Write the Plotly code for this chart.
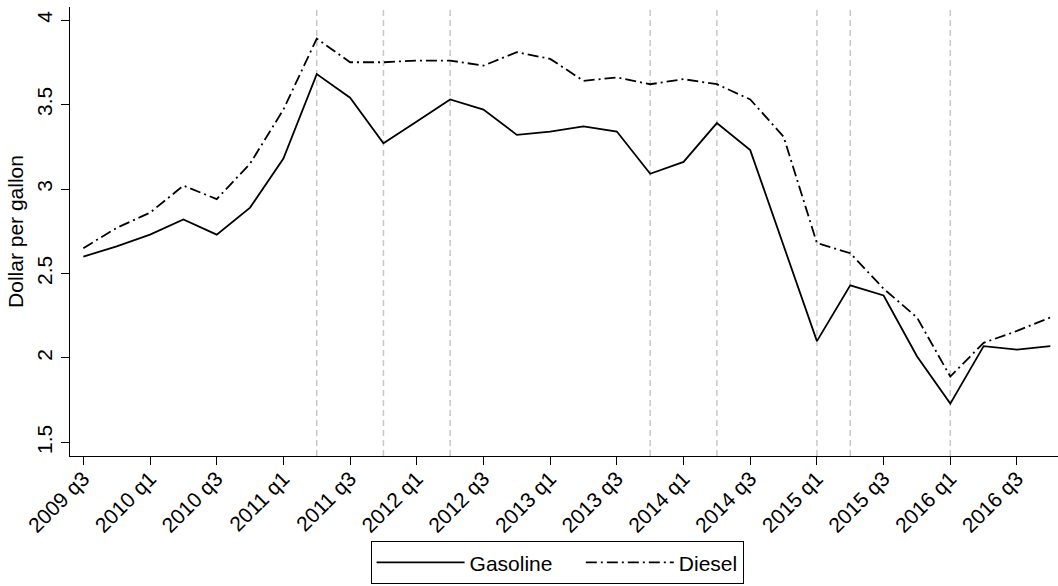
import plotly.graph_objects as go

# Quarterly average retail fuel prices, 2009 q3 - 2016 q4
quarters = [
    "2009 q3", "2009 q4",
    "2010 q1", "2010 q2", "2010 q3", "2010 q4",
    "2011 q1", "2011 q2", "2011 q3", "2011 q4",
    "2012 q1", "2012 q2", "2012 q3", "2012 q4",
    "2013 q1", "2013 q2", "2013 q3", "2013 q4",
    "2014 q1", "2014 q2", "2014 q3", "2014 q4",
    "2015 q1", "2015 q2", "2015 q3", "2015 q4",
    "2016 q1", "2016 q2", "2016 q3", "2016 q4",
]
gasoline = [
    2.60, 2.66, 2.73, 2.82, 2.73, 2.89,
    3.18, 3.68, 3.54, 3.27, 3.40, 3.53,
    3.47, 3.32, 3.34, 3.37, 3.34, 3.09,
    3.16, 3.39, 3.23, 2.66, 2.10, 2.43,
    2.37, 2.01, 1.73, 2.07, 2.05, 2.07,
]
diesel = [
    2.65, 2.77, 2.86, 3.02, 2.94, 3.15,
    3.47, 3.89, 3.75, 3.75, 3.76, 3.76,
    3.73, 3.81, 3.77, 3.64, 3.66, 3.62,
    3.65, 3.62, 3.53, 3.31, 2.68, 2.62,
    2.41, 2.24, 1.89, 2.09, 2.16, 2.24,
]
# Quarters flagged with a vertical reference line
marked_quarters = ["2011 q2", "2011 q4", "2012 q2", "2013 q4",
                   "2014 q2", "2015 q1", "2015 q2", "2016 q1"]
y_ticks = [1.5, 2, 2.5, 3, 3.5, 4]
y_tick_text = ["1.5", "2", "2.5", "3", "3.5", "4"]

pos = list(range(len(quarters)))
tick_pos = pos[::2]
tick_text = quarters[::2]

font_family = "Liberation Sans, Arial, Helvetica, sans-serif"
fs = 21
nbsp = "\u00a0"

fig = go.Figure()
fig.add_trace(go.Scatter(
    x=pos, y=gasoline, mode="lines", name="Gasoline" + nbsp * 4,
    line=dict(color="black", width=1.8),
))
fig.add_trace(go.Scatter(
    x=pos, y=diesel, mode="lines", name="Diesel",
    line=dict(color="black", width=1.8, dash="11px,4px,2px,4px"),
))

for q in marked_quarters:
    xi = quarters.index(q)
    fig.add_shape(
        type="line", xref="x", yref="paper",
        x0=xi, x1=xi, y0=0, y1=1,
        line=dict(color="#c8c8c8", width=1.5, dash="6px,4px"),
        layer="below",
    )

fig.update_layout(
    width=1058, height=586,
    margin=dict(l=70, r=0, t=7, b=130),
    paper_bgcolor="white", plot_bgcolor="white",
    font=dict(family=font_family, size=fs, color="black"),
    showlegend=True,
    legend=dict(
        orientation="h",
        x=0.493, xanchor="center",
        y=-0.19, yanchor="top",
        bordercolor="black", borderwidth=1,
        font=dict(size=fs),
        itemwidth=88,
        traceorder="normal",
    ),
    xaxis=dict(
        range=[-0.4, 29.23],
        tickmode="array", tickvals=tick_pos, ticktext=tick_text,
        tickangle=-45,
        ticks="outside", ticklen=8, tickcolor="black", tickwidth=1.3,
        ticklabelstandoff=-7,
        showline=True, linecolor="black", linewidth=1.3,
        showgrid=False, zeroline=False, automargin=False,
        tickfont=dict(size=fs),
    ),
    yaxis=dict(
        range=[1.42, 4.077],
        tickmode="array", tickvals=y_ticks, ticktext=y_tick_text,
        tickangle=-90,
        ticks="outside", ticklen=8, tickcolor="black", tickwidth=1.3,
        showline=True, linecolor="black", linewidth=1.3,
        showgrid=False, zeroline=False, automargin=False,
        tickfont=dict(size=fs),
        title=dict(text="Dollar per gallon", font=dict(size=fs), standoff=4),
    ),
)

fig.write_html("out.html")
